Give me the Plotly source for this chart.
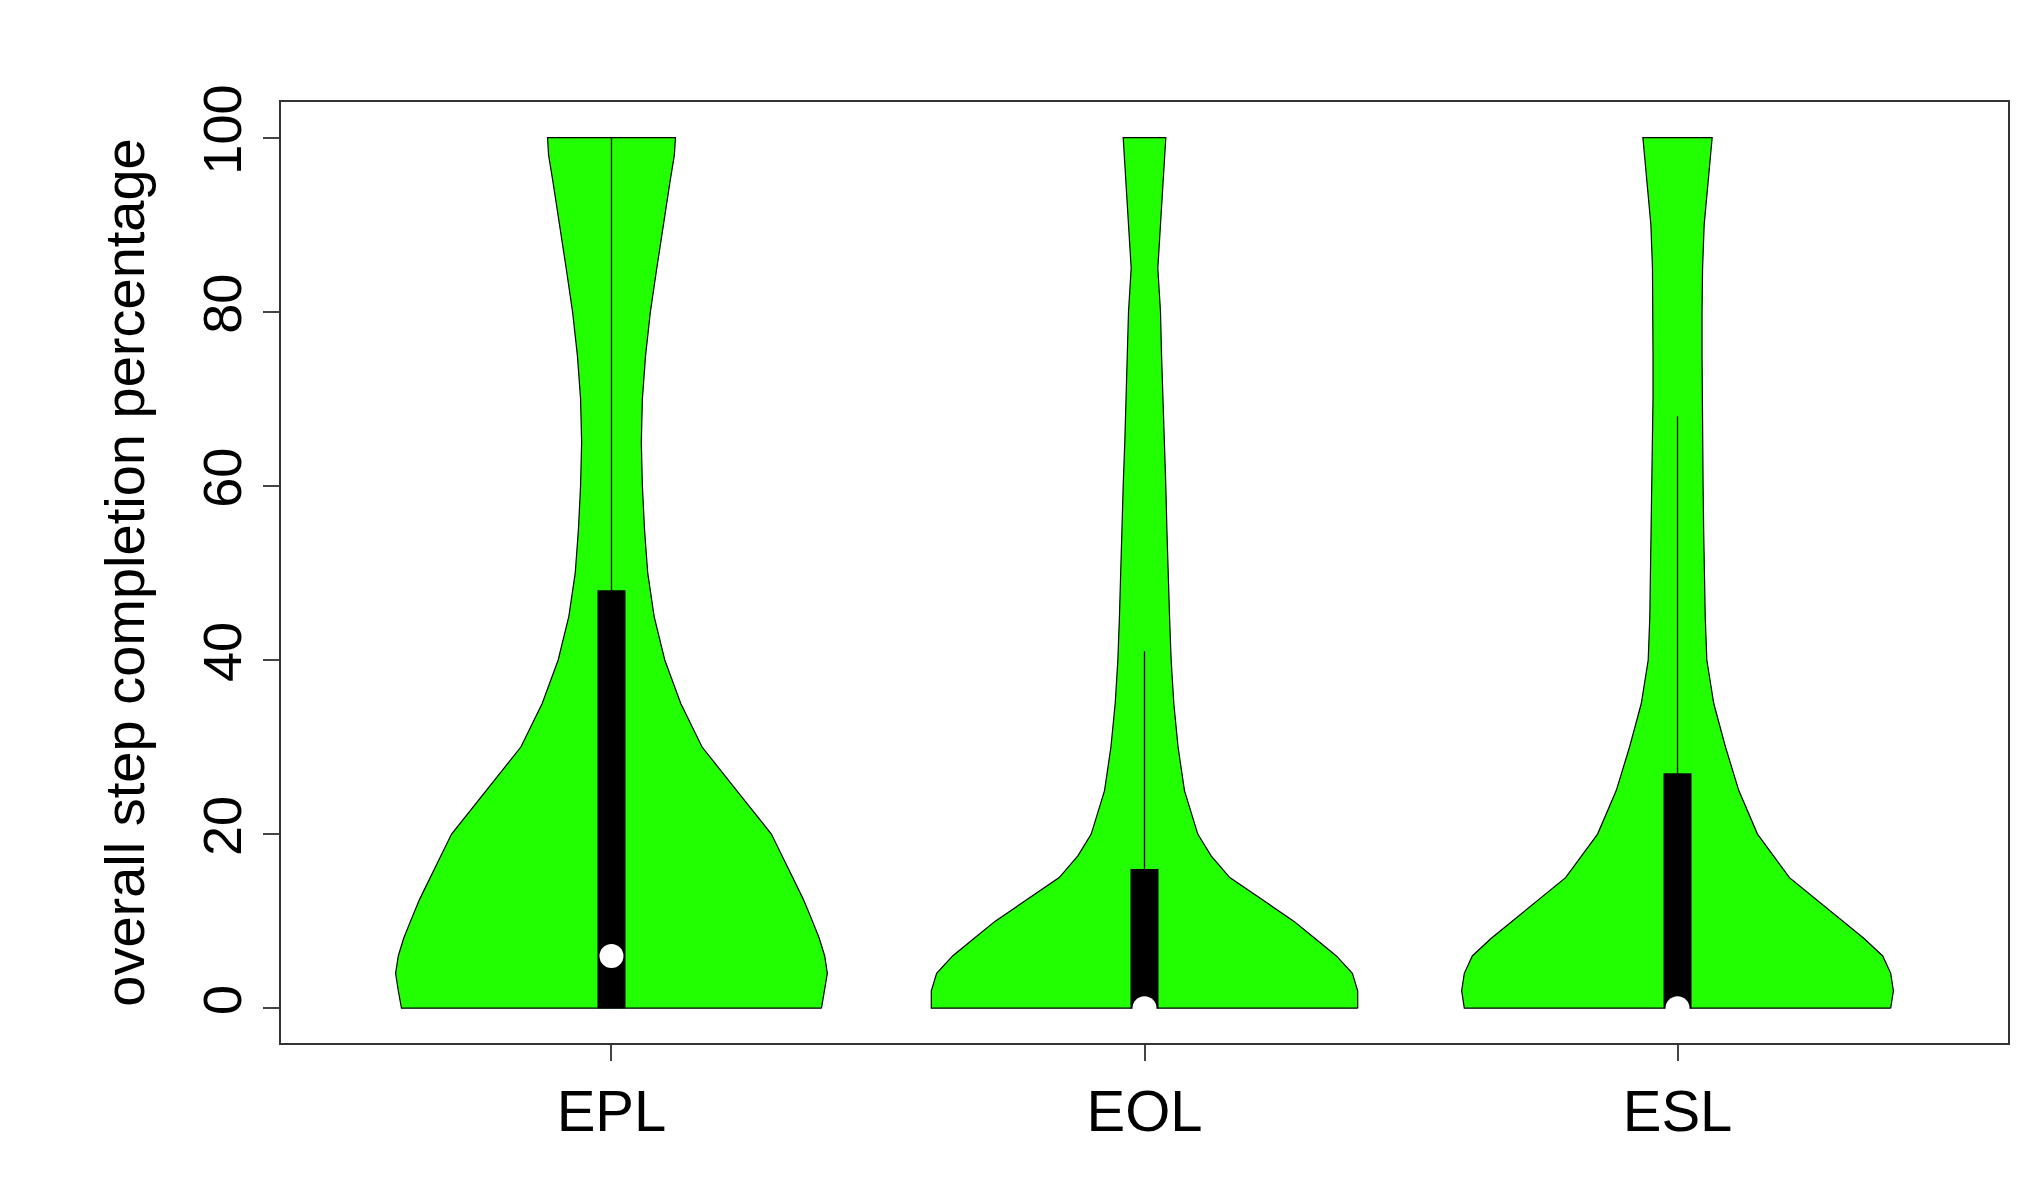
import plotly.graph_objects as go

groups = ["EPL", "EOL", "ESL"]
y_grid = [0, 2, 4, 6, 8, 10, 12.5, 15, 17.5, 20, 25, 30, 35, 40, 45, 50, 55, 60, 65, 70, 75, 80, 85, 90, 95, 98, 100]
hw_epl = [0.394, 0.40, 0.405, 0.40, 0.39, 0.377, 0.36, 0.34, 0.32, 0.30, 0.235, 0.17, 0.13, 0.10, 0.08, 0.068, 0.062, 0.058, 0.056, 0.058, 0.064, 0.073, 0.085, 0.097, 0.11, 0.118, 0.12]
hw_eol = [0.40, 0.40, 0.39, 0.36, 0.32, 0.28, 0.22, 0.16, 0.125, 0.10, 0.075, 0.063, 0.055, 0.05, 0.047, 0.044, 0.042, 0.04, 0.037, 0.034, 0.032, 0.03, 0.025, 0.03, 0.035, 0.038, 0.04]
hw_esl = [0.40, 0.405, 0.40, 0.385, 0.35, 0.31, 0.26, 0.21, 0.18, 0.15, 0.115, 0.09, 0.068, 0.055, 0.052, 0.05, 0.049, 0.048, 0.047, 0.046, 0.046, 0.046, 0.047, 0.05, 0.057, 0.062, 0.065]
q1 = [0, 0, 0]
q3 = [48, 16, 27]
median = [6, 0, 0]
whisk_lo = [0, 0, 0]
whisk_hi = [100, 41, 68]

fig = go.Figure()
for i, hw in enumerate([hw_epl, hw_eol, hw_esl]):
    xs = [i + w for w in hw] + [i - w for w in hw[::-1]] + [i + hw[0]]
    ys = y_grid + y_grid[::-1] + [y_grid[0]]
    fig.add_trace(go.Scatter(x=xs, y=ys, mode="lines", fill="toself", fillcolor="#22ff00",
                             line=dict(color="black", width=1.2),
                             showlegend=False, hoverinfo="skip"))
    fig.add_trace(go.Scatter(x=[i, i], y=[whisk_lo[i], whisk_hi[i]], mode="lines",
                             line=dict(color="black", width=1.3), showlegend=False))
    fig.add_trace(go.Scatter(x=[i, i], y=[q1[i], q3[i]], mode="lines",
                             line=dict(color="black", width=28), showlegend=False))
    fig.add_trace(go.Scatter(x=[i], y=[median[i]], mode="markers",
                             marker=dict(color="white", size=24), showlegend=False))

fig.update_layout(
    width=2037, height=1200, plot_bgcolor="white", paper_bgcolor="white",
    margin=dict(l=273, r=37, t=94, b=165),
    font=dict(family="Liberation Sans, Arial", color="black"),
)
fig.update_xaxes(range=[-0.62, 2.62], tickvals=[0, 1, 2], ticktext=groups,
                 tickfont=dict(size=58), ticks="outside", ticklen=16, tickwidth=1.5,
                 showline=True, linecolor="#333", linewidth=2, mirror=True, showgrid=False, zeroline=False)
fig.update_yaxes(range=[-4.0, 104.1], tickvals=[0, 20, 40, 60, 80, 100], tickangle=-90,
                 tickfont=dict(size=54), ticks="outside", ticklen=16, tickwidth=1.5,
                 showline=True, linecolor="#333", linewidth=2, mirror=True, showgrid=False, zeroline=False,
                 title=dict(text="overall step completion percentage", font=dict(size=56), standoff=30))
fig.write_html("out.html")
